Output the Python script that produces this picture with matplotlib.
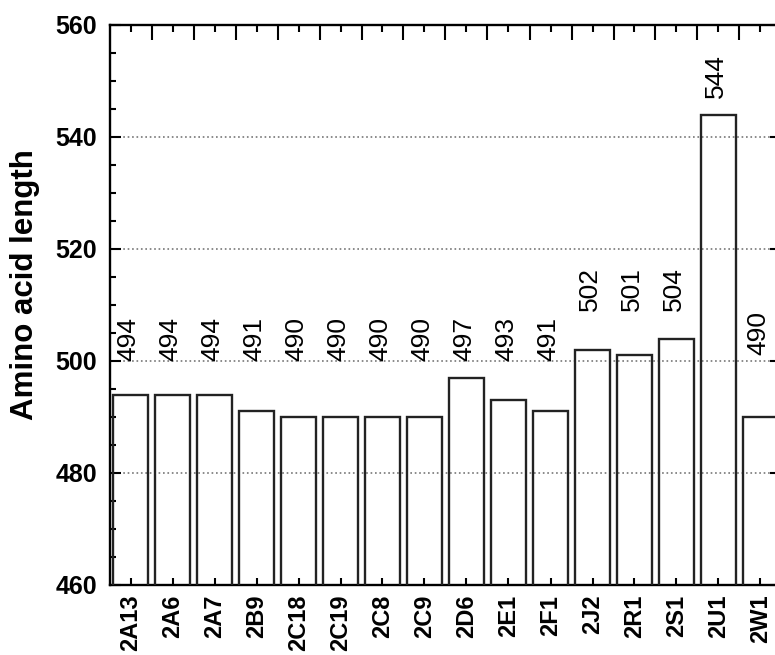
import matplotlib.pyplot as plt
from matplotlib.ticker import MultipleLocator, FixedLocator

# data
names = ['2A13', '2A6', '2A7', '2B9', '2C18', '2C19', '2C8', '2C9', '2D6',
         '2E1', '2F1', '2J2', '2R1', '2S1', '2U1', '2W1']
lengths = [494, 494, 494, 491, 490, 490, 490, 490, 497,
           493, 491, 502, 501, 504, 544, 490]
# baseline (data units) of each value label
label_y = [500] * 11 + [509, 509, 509, 547, 501]

plt.rcParams['font.family'] = ['Liberation Sans', 'DejaVu Sans']

fig = plt.figure(figsize=(7.75, 6.55), dpi=100)
ax = fig.add_axes([109.5 / 775, 70 / 655, 672 / 775, 560 / 655])

x = list(range(len(names)))
ax.bar(x, lengths, width=0.83, facecolor='none', edgecolor='#222222',
       linewidth=1.7, zorder=3)

for xi, v, ly in zip(x, lengths, label_y):
    ax.text(xi - 0.05, ly, str(v), rotation=90, ha='center', va='bottom',
            fontsize=19, color='black')

ax.set_xlim(-0.5, len(names) - 0.5)
ax.set_ylim(460, 560)

ax.set_xticks(x)
ax.set_xticklabels(names, rotation=90, fontsize=17, fontweight='bold')
ax.xaxis.set_minor_locator(FixedLocator([i + 0.5 for i in range(len(names) - 1)]))
ax.yaxis.set_major_locator(MultipleLocator(20))
ax.yaxis.set_minor_locator(MultipleLocator(5))
for lab in ax.get_yticklabels():
    lab.set_fontsize(18)
    lab.set_fontweight('bold')

ax.tick_params(axis='x', which='major', direction='in', length=5, width=1.5,
               top=True, bottom=True, pad=7)
ax.tick_params(axis='x', which='minor', direction='in', length=11, width=1.5,
               top=True, bottom=False)
ax.tick_params(axis='y', which='major', direction='in', length=8, width=1.5,
               left=True, right=True, pad=9)
ax.tick_params(axis='y', which='minor', direction='in', length=4, width=1.5,
               left=True, right=True)

ax.yaxis.grid(True, which='major', linestyle=':', color='#777777', linewidth=1.2, zorder=0)
ax.set_axisbelow(True)
for s in ax.spines.values():
    s.set_linewidth(1.7)

ax.set_ylabel('Amino acid length', fontsize=22.5, fontweight='bold')
ax.yaxis.set_label_coords(-0.104, 0.536)

fig.savefig('out.png', dpi=100)
